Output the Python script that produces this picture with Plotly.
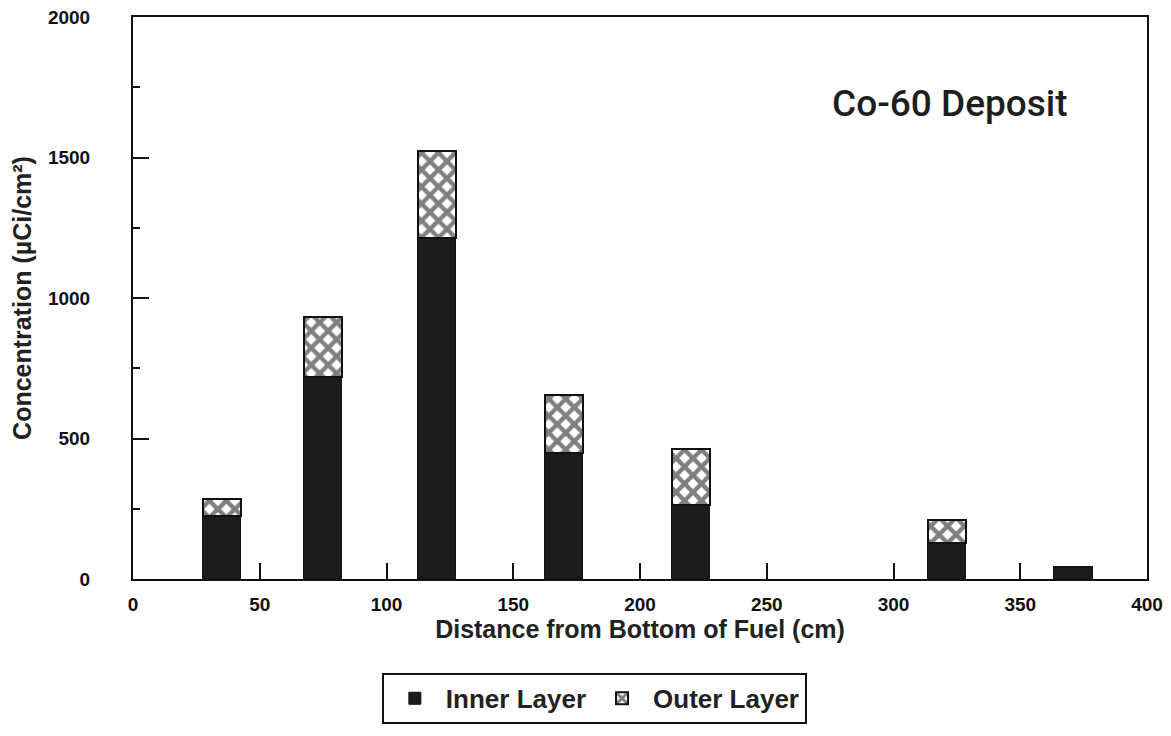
import plotly.graph_objects as go

positions = [35, 75, 120, 170, 220, 321, 371]
inner_layer = [224, 719, 1212, 448, 263, 128, 43]
outer_layer = [61, 213, 311, 207, 200, 82, 0]
bar_width = 15

fig = go.Figure()
fig.add_trace(go.Bar(
    x=positions, y=inner_layer, width=bar_width, name="Inner Layer",
    marker=dict(color="#1c1c1c", line=dict(color="#111", width=1)),
))
fig.add_trace(go.Bar(
    x=positions, y=outer_layer, width=bar_width, name="Outer Layer",
    marker=dict(color="white", line=dict(color="#111", width=2),
                pattern=dict(shape="x", fgcolor="#000", bgcolor="white",
                             size=12, solidity=0.6, fillmode="overlay")),
))

fig.add_annotation(
    x=0.924, y=0.846, xref="paper", yref="paper", xanchor="right", yanchor="middle",
    text="Co-60 Deposit", showarrow=False,
    font=dict(family="Roboto", size=37, color="#1e1e1e", weight=500),
)

# page has an 8px body margin, so the figure is offset by 8px
fig.update_layout(
    width=1155, height=736,
    barmode="stack",
    paper_bgcolor="white", plot_bgcolor="white",
    margin=dict(l=125, r=16, t=9, b=165),
    font=dict(family="Liberation Sans", color="#111"),
    showlegend=True,
    legend=dict(
        orientation="h", x=0.455, xanchor="center", y=-0.167, yanchor="top",
        traceorder="normal",
        bordercolor="#111", borderwidth=2, bgcolor="white",
        font=dict(family="Liberation Sans", size=26, color="#222", weight="bold"),
        itemwidth=52,
    ),
    bargap=0,
)

fig.update_xaxes(
    range=[0, 400], tickvals=[0, 50, 100, 150, 200, 250, 300, 350, 400],
    ticks="inside", ticklen=16, tickwidth=2, tickcolor="#111",
    showline=True, linecolor="#111", linewidth=2, mirror=True,
    showgrid=False, zeroline=False, automargin=False,
    ticklabeloverflow="allow",
    tickfont=dict(family="Liberation Sans", size=19, color="#111", weight="bold"),
    ticklabelstandoff=7,
    title=dict(text="Distance from Bottom of Fuel (cm)", standoff=3,
               font=dict(family="Liberation Sans", size=25, color="#222", weight="bold")),
)
fig.update_yaxes(
    range=[0, 2000], tickvals=[0, 500, 1000, 1500, 2000],
    ticks="inside", ticklen=16, tickwidth=2, tickcolor="#111",
    minor=dict(dtick=250, ticks="inside", ticklen=7, tickwidth=2, tickcolor="#111"),
    showline=True, linecolor="#111", linewidth=2, mirror=True,
    showgrid=False, zeroline=False, automargin=False,
    ticklabeloverflow="allow",
    tickfont=dict(family="Liberation Sans", size=19, color="#111", weight="bold"),
    ticklabelstandoff=37,
    title=dict(text="Concentration (µCi/cm²)", standoff=9,
               font=dict(family="Liberation Sans", size=25, color="#222", weight="bold")),
)

fig.write_html("out.html")
